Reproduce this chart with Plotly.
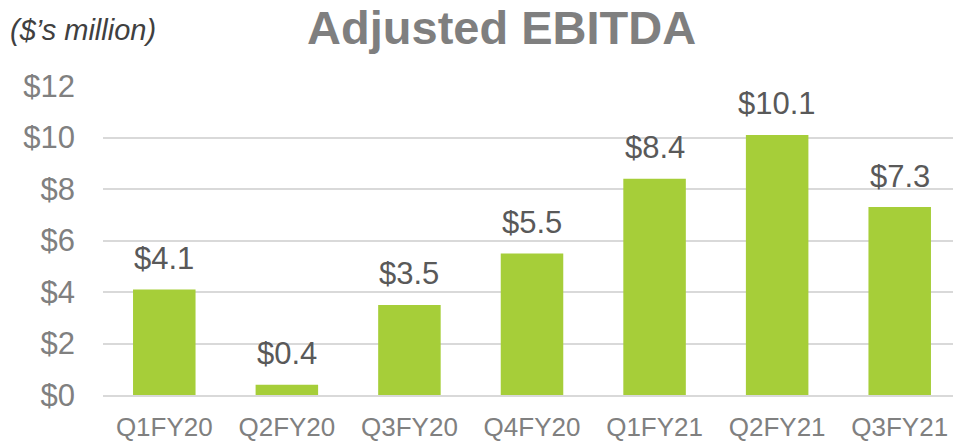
import plotly.graph_objects as go

quarters = ['Q1FY20', 'Q2FY20', 'Q3FY20', 'Q4FY20', 'Q1FY21', 'Q2FY21', 'Q3FY21']
ebitda = [4.1, 0.4, 3.5, 5.5, 8.4, 10.1, 7.3]
y_ticks = [0, 2, 4, 6, 8, 10, 12]

FONT = 'Liberation Sans, Arial, sans-serif'

fig = go.Figure()
fig.add_trace(go.Bar(x=quarters, y=ebitda, marker=dict(color='#A6CE39', line=dict(width=0)),
                     hoverinfo='x+y'))

# 바 위 데이터 라벨
for q, v in zip(quarters, ebitda):
    fig.add_annotation(x=q, y=v, text=f'${v:.1f}', showarrow=False, yanchor='middle', yshift=31,
                       font=dict(family=FONT, size=31, color='#595959'))

fig.add_annotation(xref='paper', yref='paper', x=-0.1107, y=1.18, xanchor='left', yanchor='middle',
                   text="<i>($’s million)</i>", showarrow=False,
                   font=dict(family=FONT, size=29, color='#404040'))

# 페이지 body 여백(8px) 보정: 크기를 줄이고 마진 조정
fig.update_layout(
    title=dict(text='<b>Adjusted EBITDA</b>', x=0.518, xanchor='center', y=0.955, yanchor='middle',
               font=dict(family=FONT, size=47, color='#7F7F7F')),
    width=953, height=433,
    margin=dict(l=95, r=0, t=78, b=46),
    plot_bgcolor='white', paper_bgcolor='white',
    bargap=0.49, showlegend=False,
)
fig.update_yaxes(range=[0, 12], tickvals=y_ticks, ticktext=[f'${t}' for t in y_ticks],
                 showgrid=True, gridcolor='#D9D9D9', gridwidth=1.5, zeroline=False,
                 showline=False, ticks='', ticklabelstandoff=27,
                 tickfont=dict(family=FONT, size=31, color='#808080'))
fig.update_xaxes(showline=True, linecolor='#D9D9D9', linewidth=1.5, ticks='',
                 ticklabelstandoff=8, tickfont=dict(family=FONT, size=26, color='#808080'))

fig.write_html('out.html')
